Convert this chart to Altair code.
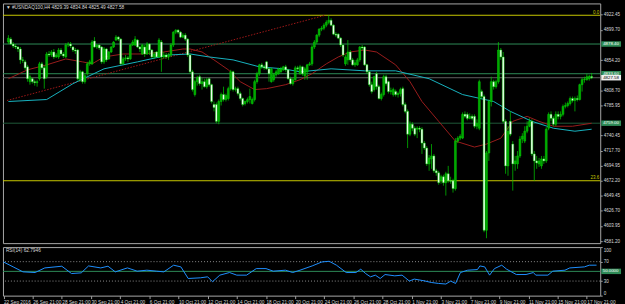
import altair as alt
import pandas as pd

FONT = "Liberation Sans"
TXT = "#d8d8d8"

# ---------------- candles: H4 bars, index 0..244 ----------------
opens = [
    4881.4, 4885.8, 4878.4, 4875.4, 4873.9, 4870.9, 4854.5, 4851.5, 4844.0, 4821.6,
    4826.1, 4821.6, 4820.1, 4826.1, 4848.5, 4842.5, 4829.1, 4863.4, 4861.9, 4866.4,
    4858.9, 4858.9, 4869.4, 4863.4, 4858.9, 4876.9, 4878.4, 4873.9, 4869.4, 4869.4,
    4824.6, 4836.5, 4821.6, 4833.6, 4848.5, 4848.5, 4882.9, 4873.9, 4876.9, 4873.9,
    4851.5, 4870.9, 4856.0, 4866.4, 4873.9, 4884.4, 4888.8, 4885.8, 4848.5, 4856.0,
    4857.5, 4856.0, 4876.9, 4876.9, 4884.4, 4873.9, 4863.4, 4873.9, 4863.4, 4878.4,
    4869.4, 4858.9, 4866.4, 4858.9, 4881.4, 4858.9, 4861.9, 4858.9, 4861.9, 4876.9,
    4896.3, 4899.3, 4896.3, 4888.8, 4891.8, 4885.8, 4861.9, 4836.5, 4802.2, 4821.6,
    4829.1, 4818.6, 4821.6, 4814.1, 4826.1, 4817.1, 4787.2, 4787.2, 4761.8, 4791.7,
    4802.2, 4794.7, 4796.2, 4811.1, 4836.5, 4809.7, 4811.1, 4803.7, 4796.2, 4788.7,
    4791.7, 4794.7, 4788.7, 4794.7, 4821.6, 4833.6, 4847.0, 4844.0, 4851.5, 4841.0,
    4821.6, 4824.6, 4832.1, 4833.6, 4836.5, 4839.5, 4844.0, 4839.5, 4826.1, 4818.6,
    4824.6, 4842.5, 4833.6, 4844.0, 4830.6, 4836.5, 4847.0, 4848.5, 4873.9, 4881.4,
    4891.8, 4900.8, 4902.3, 4906.8, 4911.2, 4914.2, 4906.8, 4893.3, 4893.3, 4887.3,
    4876.9, 4848.5, 4854.5, 4866.4, 4854.5, 4847.0, 4847.0, 4854.5, 4873.9, 4873.9,
    4847.0, 4836.5, 4817.1, 4809.7, 4833.6, 4814.1, 4796.2, 4802.2, 4829.1, 4821.6,
    4806.7, 4802.2, 4806.7, 4802.2, 4803.7, 4811.1, 4787.2, 4776.8, 4742.4, 4757.4,
    4751.4, 4749.9, 4751.4, 4749.9, 4729.0, 4721.5, 4697.6, 4705.1, 4709.6, 4687.2,
    4684.2, 4672.2, 4678.2, 4669.2, 4682.7, 4672.2, 4672.2, 4660.3, 4732.0, 4736.5,
    4736.5, 4772.3, 4772.3, 4766.3, 4769.3, 4769.3, 4754.4, 4751.4, 4806.7, 4799.2,
    4597.5, 4714.1, 4791.7, 4821.6, 4814.1, 4821.6, 4869.4, 4858.9, 4761.8, 4694.6,
    4761.8, 4727.5, 4697.6, 4697.6, 4709.6, 4735.0, 4732.0, 4746.9, 4754.4, 4761.8,
    4712.6, 4702.1, 4697.6, 4694.6, 4705.1, 4702.1, 4751.4, 4772.3, 4766.3, 4757.4,
    4772.3, 4769.3, 4772.3, 4784.3, 4785.7, 4788.7, 4796.2, 4793.2, 4796.2, 4794.7,
    4817.1, 4824.6, 4824.6, 4826.1, 4829.39]
highs = [
    4891.8, 4888.8, 4881.4, 4878.4, 4875.4, 4873.9, 4858.9, 4854.5, 4847.0, 4832.1,
    4827.6, 4824.6, 4824.6, 4851.5, 4851.5, 4845.5, 4866.4, 4867.9, 4869.4, 4870.9,
    4864.9, 4872.4, 4872.4, 4866.4, 4879.9, 4881.4, 4881.4, 4875.4, 4872.4, 4870.9,
    4839.5, 4838.0, 4833.6, 4851.5, 4854.5, 4884.4, 4888.8, 4878.4, 4878.4, 4875.4,
    4873.9, 4872.4, 4867.9, 4875.4, 4882.9, 4891.8, 4890.3, 4887.3, 4858.9, 4861.9,
    4860.4, 4878.4, 4884.4, 4890.3, 4885.8, 4875.4, 4878.4, 4876.9, 4881.4, 4879.9,
    4870.9, 4866.4, 4867.9, 4887.3, 4884.4, 4866.4, 4864.9, 4864.9, 4879.9, 4897.8,
    4900.8, 4900.8, 4897.8, 4894.8, 4894.8, 4887.3, 4863.4, 4839.5, 4824.6, 4830.6,
    4832.1, 4827.6, 4826.1, 4827.6, 4827.6, 4818.6, 4791.7, 4790.2, 4794.7, 4805.2,
    4814.1, 4803.7, 4814.1, 4839.5, 4838.0, 4814.1, 4814.1, 4806.7, 4797.7, 4793.2,
    4797.7, 4811.1, 4797.7, 4824.6, 4836.5, 4848.5, 4850.0, 4847.0, 4853.0, 4842.5,
    4842.5, 4835.0, 4839.5, 4842.5, 4844.0, 4845.5, 4847.0, 4841.0, 4829.1, 4827.6,
    4845.5, 4845.5, 4847.0, 4845.5, 4844.0, 4848.5, 4851.5, 4876.9, 4884.4, 4893.3,
    4902.3, 4905.3, 4909.7, 4914.2, 4921.7, 4917.2, 4908.2, 4896.3, 4894.8, 4888.8,
    4878.4, 4861.9, 4884.4, 4869.4, 4857.5, 4854.5, 4857.5, 4875.4, 4876.9, 4875.4,
    4848.5, 4838.0, 4821.6, 4830.6, 4836.5, 4817.1, 4805.2, 4832.1, 4832.1, 4823.1,
    4812.6, 4812.6, 4809.7, 4806.7, 4812.6, 4814.1, 4790.2, 4779.8, 4761.8, 4760.4,
    4754.4, 4754.4, 4754.4, 4752.9, 4732.0, 4724.5, 4711.1, 4727.5, 4712.6, 4690.2,
    4687.2, 4681.2, 4681.2, 4685.7, 4694.6, 4678.2, 4675.2, 4736.5, 4739.4, 4742.4,
    4775.3, 4776.8, 4775.3, 4773.8, 4772.3, 4772.3, 4764.8, 4824.6, 4809.7, 4802.2,
    4717.0, 4794.7, 4829.1, 4824.6, 4824.6, 4881.4, 4872.4, 4866.4, 4764.8, 4754.4,
    4776.8, 4732.0, 4709.6, 4717.0, 4739.4, 4743.9, 4754.4, 4761.8, 4766.3, 4764.8,
    4717.0, 4709.6, 4706.6, 4709.6, 4709.6, 4752.9, 4775.3, 4776.8, 4769.3, 4776.8,
    4776.8, 4776.8, 4787.2, 4790.2, 4791.7, 4799.2, 4799.2, 4799.2, 4800.7, 4818.6,
    4827.6, 4829.1, 4833.6, 4832.1, 4834.84]
lows = [
    4878.4, 4876.9, 4872.4, 4870.9, 4866.4, 4848.5, 4850.0, 4839.5, 4821.6, 4817.1,
    4818.6, 4815.6, 4814.1, 4823.1, 4839.5, 4811.1, 4826.1, 4858.9, 4858.9, 4856.0,
    4857.5, 4856.0, 4860.4, 4857.5, 4857.5, 4873.9, 4872.4, 4866.4, 4863.4, 4823.1,
    4821.6, 4818.6, 4818.6, 4830.6, 4845.5, 4847.0, 4872.4, 4870.9, 4869.4, 4848.5,
    4848.5, 4851.5, 4854.5, 4864.9, 4872.4, 4882.9, 4882.9, 4847.0, 4847.0, 4853.0,
    4851.5, 4854.5, 4875.4, 4875.4, 4872.4, 4866.4, 4861.9, 4858.9, 4861.9, 4861.9,
    4857.5, 4856.0, 4857.5, 4857.5, 4836.5, 4856.0, 4856.0, 4854.5, 4858.9, 4873.9,
    4893.3, 4893.3, 4887.3, 4887.3, 4882.9, 4858.9, 4833.6, 4806.7, 4799.2, 4815.6,
    4815.6, 4809.7, 4812.6, 4811.1, 4814.1, 4788.7, 4776.8, 4758.9, 4757.4, 4785.7,
    4791.7, 4791.7, 4793.2, 4808.2, 4806.7, 4806.7, 4800.7, 4793.2, 4784.3, 4785.7,
    4788.7, 4788.7, 4787.2, 4791.7, 4818.6, 4830.6, 4841.0, 4839.5, 4839.5, 4821.6,
    4820.1, 4821.6, 4829.1, 4832.1, 4835.0, 4838.0, 4836.5, 4824.6, 4817.1, 4815.6,
    4823.1, 4838.0, 4832.1, 4830.6, 4824.6, 4824.6, 4845.5, 4845.5, 4870.9, 4878.4,
    4888.8, 4897.8, 4899.3, 4903.8, 4908.2, 4905.3, 4891.8, 4888.8, 4885.8, 4873.9,
    4858.9, 4845.5, 4847.0, 4851.5, 4845.5, 4844.0, 4845.5, 4851.5, 4869.4, 4845.5,
    4833.6, 4814.1, 4803.7, 4806.7, 4809.7, 4794.7, 4793.2, 4799.2, 4815.6, 4803.7,
    4802.2, 4799.2, 4799.2, 4797.7, 4799.2, 4784.3, 4773.8, 4721.5, 4739.4, 4746.9,
    4739.4, 4736.5, 4745.4, 4712.6, 4718.5, 4694.6, 4687.2, 4690.2, 4684.2, 4679.7,
    4666.2, 4667.7, 4664.7, 4649.8, 4669.2, 4667.7, 4654.3, 4657.3, 4729.0, 4733.5,
    4735.0, 4766.3, 4763.3, 4764.8, 4763.3, 4751.4, 4749.9, 4748.4, 4796.2, 4594.5,
    4585.5, 4702.1, 4784.3, 4809.7, 4811.1, 4818.6, 4854.5, 4758.9, 4682.7, 4679.7,
    4739.4, 4657.3, 4687.2, 4690.2, 4706.6, 4729.0, 4729.0, 4743.9, 4752.9, 4709.6,
    4672.2, 4690.2, 4693.1, 4690.2, 4697.6, 4699.1, 4748.4, 4761.8, 4754.4, 4754.4,
    4764.8, 4764.8, 4769.3, 4781.3, 4782.8, 4785.7, 4790.2, 4776.8, 4791.7, 4793.2,
    4806.7, 4820.1, 4823.1, 4823.1, 4825.49]
closes = [
    4887.3, 4878.4, 4875.4, 4873.9, 4870.9, 4854.5, 4853.8, 4842.5, 4826.1, 4829.1,
    4821.6, 4820.1, 4821.6, 4848.5, 4842.5, 4826.1, 4863.4, 4861.9, 4866.4, 4858.9,
    4861.9, 4869.4, 4863.4, 4860.4, 4876.9, 4878.4, 4875.4, 4869.4, 4867.9, 4826.1,
    4836.5, 4821.6, 4830.6, 4848.5, 4851.5, 4881.4, 4873.9, 4876.9, 4872.4, 4851.5,
    4870.9, 4854.5, 4866.4, 4873.9, 4881.4, 4888.8, 4885.8, 4848.5, 4856.0, 4857.5,
    4856.0, 4876.9, 4881.4, 4885.8, 4873.9, 4870.9, 4876.9, 4863.4, 4878.4, 4869.4,
    4858.9, 4863.4, 4858.9, 4884.4, 4858.9, 4861.9, 4858.9, 4861.9, 4876.9, 4896.3,
    4899.3, 4896.3, 4888.8, 4891.8, 4885.8, 4861.9, 4836.5, 4809.7, 4821.6, 4827.6,
    4818.6, 4821.6, 4814.1, 4824.6, 4817.1, 4791.7, 4782.8, 4761.8, 4791.7, 4802.2,
    4794.7, 4800.7, 4811.1, 4836.5, 4809.7, 4811.1, 4803.7, 4796.2, 4787.2, 4791.7,
    4794.7, 4799.2, 4794.7, 4821.6, 4833.6, 4847.0, 4844.0, 4842.5, 4841.0, 4833.6,
    4841.0, 4832.1, 4836.5, 4841.0, 4841.0, 4844.0, 4839.5, 4826.1, 4818.6, 4824.6,
    4842.5, 4841.0, 4844.0, 4833.6, 4841.0, 4847.0, 4848.5, 4873.9, 4881.4, 4891.8,
    4900.8, 4902.3, 4906.8, 4911.2, 4914.2, 4906.8, 4893.3, 4891.8, 4887.3, 4876.9,
    4861.9, 4858.9, 4866.4, 4854.5, 4847.0, 4850.0, 4854.5, 4873.9, 4872.4, 4847.0,
    4836.5, 4817.1, 4806.7, 4829.1, 4814.1, 4796.2, 4802.2, 4829.1, 4818.6, 4806.7,
    4808.2, 4809.7, 4802.2, 4803.7, 4809.7, 4787.2, 4776.8, 4742.4, 4757.4, 4751.4,
    4742.4, 4751.4, 4749.9, 4729.0, 4721.5, 4697.6, 4706.6, 4709.6, 4687.2, 4684.2,
    4669.2, 4678.2, 4669.2, 4682.7, 4672.2, 4671.5, 4660.3, 4732.0, 4736.5, 4739.4,
    4772.3, 4769.3, 4766.3, 4769.3, 4766.3, 4754.4, 4758.9, 4821.6, 4799.2, 4597.5,
    4714.1, 4791.7, 4821.6, 4814.1, 4821.6, 4869.4, 4858.9, 4761.8, 4694.6, 4746.9,
    4742.4, 4697.6, 4702.1, 4709.6, 4735.0, 4739.4, 4746.9, 4754.4, 4761.8, 4712.6,
    4702.1, 4699.1, 4702.1, 4705.1, 4702.1, 4749.9, 4772.3, 4766.3, 4757.4, 4772.3,
    4769.3, 4772.3, 4784.3, 4785.7, 4788.7, 4796.2, 4793.2, 4796.2, 4794.7, 4817.1,
    4824.6, 4825.3, 4829.1, 4829.4, 4827.58]
bars = list(range(len(closes)))

# moving averages (bar, price)
ma_red_bar = [0, 8, 16, 24, 31, 35, 40, 48, 56, 65, 73, 76, 81, 86, 92, 97, 103, 108, 116, 122, 127, 133,
              138, 143, 149, 154, 162, 168, 173, 180, 187, 195, 200, 206, 211, 217, 222, 228, 236, 244]
ma_red = [4826.1, 4839.5, 4847.0, 4855.9, 4851.5, 4848.5, 4858.9, 4863.4, 4863.4, 4866.4, 4870.9, 4870.9,
          4866.4, 4854.5, 4839.5, 4821.6, 4809.7, 4811.1, 4817.1, 4824.6, 4833.6, 4848.5, 4858.9, 4866.4,
          4869.4, 4866.4, 4847.0, 4821.6, 4791.7, 4761.8, 4732.0, 4723.0, 4727.5, 4736.4, 4761.8, 4769.3,
          4761.8, 4754.4, 4754.4, 4758.9]
ma_cyan_bar = [0, 16, 27, 40, 54, 67, 76, 84, 94, 105, 115, 122, 135, 149, 162, 176, 190, 203, 210, 219,
               228, 237, 244]
ma_cyan = [4791.7, 4794.7, 4818.6, 4841.0, 4851.5, 4861.9, 4863.4, 4858.9, 4854.5, 4844.0, 4841.0, 4836.5,
           4841.0, 4838.0, 4838.0, 4826.1, 4802.2, 4791.7, 4776.8, 4761.8, 4751.4, 4746.9, 4749.9]

# RSI(14)
rsi_bar = [0, 4, 8, 13, 17, 24, 28, 32, 35, 40, 43, 46, 51, 55, 59, 63, 66, 70, 73, 76, 81, 84, 86, 89,
           93, 96, 100, 104, 108, 111, 116, 119, 122, 127, 131, 134, 137, 141, 145, 147, 149, 151, 153,
           155, 157, 161, 164, 167, 169, 173, 176, 179, 182, 184, 186, 188, 191, 195, 196, 198, 200, 202,
           205, 207, 211, 215, 218, 219, 224, 226, 231, 233, 239, 241, 244]
rsi = [69.4, 59.2, 49.0, 47.6, 57.1, 60.6, 45.5, 46.9, 61.2, 57.1, 60.6, 49.0, 57.1, 50.4, 52.4, 50.4, 49.0,
       62.7, 59.2, 35.3, 36.7, 38.8, 28.6, 42.2, 47.6, 42.2, 42.2, 55.7, 55.7, 50.4, 52.4, 47.6, 52.4, 61.2,
       69.4, 70.8, 62.7, 47.6, 47.6, 54.5, 45.5, 38.8, 42.2, 35.3, 43.5, 40.8, 42.2, 30.0, 34.1, 30.6, 27.1,
       25.1, 23.9, 30.0, 25.1, 47.6, 52.4, 53.7, 61.2, 59.2, 42.2, 55.7, 62.7, 54.5, 43.5, 43.5, 47.6, 42.2,
       42.2, 50.4, 52.4, 57.1, 59.2, 62.7, 62.79]

# axis ticks / labels
time_ticks = [0, 12, 24, 36, 48, 60, 72, 84, 96, 108, 120, 132, 144, 156, 168, 180, 192, 204, 216, 228, 240]
time_labels = ["22 Sep 2016", "26 Sep 21:00", "28 Sep 21:00", "30 Sep 21:00", "4 Oct 21:00", "6 Oct 21:00",
               "10 Oct 21:00", "12 Oct 21:00", "14 Oct 21:00", "18 Oct 21:00", "20 Oct 21:00",
               "24 Oct 21:00", "26 Oct 21:00", "28 Oct 21:00", "1 Nov 21:00", "3 Nov 21:00",
               "7 Nov 21:00", "9 Nov 21:00", "11 Nov 21:00", "15 Nov 21:00", "17 Nov 21:00"]
price_ticks = [4922.45, 4899.70, 4854.20, 4808.70, 4785.95, 4740.45, 4717.70,
               4694.95, 4672.20, 4649.45, 4626.70, 4603.95, 4581.20]
rsi_ticks = [100, 70, 30, 0]

# horizontal objects
levels = [4921.80, 4672.20, 4878.40, 4833.60, 4759.00, 4827.58]
level_colors = ["#c8c800", "#c8c800", "#2e8b57", "#2e8b57", "#1f5a3a", "#606060"]
tag_levels = [4878.40, 4833.60, 4759.00, 4827.58]
tag_texts = ["4878.40", "4833.60", "4759.00", "4827.58"]
tag_fill = ["#2e8b57", "#2e8b57", "#2e8b57", "#f0f0f0"]
tag_txt = ["#ffffff", "#ffffff", "#ffffff", "#000000"]
fib_levels = [4921.80, 4672.20]
fib_texts = ["0.0", "23.6"]
trend_bar = [-0.6, 132.5]
trend_price = [4793.2, 4921.8]

header = "\u25bc #USNDAQ100,H4  4829.39 4834.84 4825.49 4827.58"
rsi_title = "RSI(14) 62.7946"

# ---------------- frames ----------------
candles = pd.DataFrame(dict(bar=bars, open=opens, high=highs, low=lows, close=closes))
candles["dir"] = ["up" if c >= o else "down" for o, c in zip(opens, closes)]

X_DOM = [-0.204, 245.52]
Y_DOM = [4578.08, 4939.63]
xs = alt.Scale(domain=X_DOM, nice=False, zero=False)
ys = alt.Scale(domain=Y_DOM, nice=False, zero=False)
rs = alt.Scale(domain=[0, 100], nice=False, zero=False)

yaxis = alt.Axis(orient="right", values=price_ticks, format=".2f", title=None, grid=False, domain=False,
                 tickSize=2, tickColor="#a0a0a0", labelColor=TXT, labelFontSize=4.6, labelFont=FONT,
                 labelPadding=1, labelAlign="left", labelBaseline="middle")


def X(f):
    return alt.X(f, type="quantitative", scale=xs, axis=None)


def Y(f):
    return alt.Y(f, type="quantitative", scale=ys, axis=yaxis)


lv = pd.DataFrame(dict(price=levels, color=level_colors))
hlines = alt.Chart(lv).mark_rule(strokeWidth=1).encode(
    y=Y("price"), color=alt.Color("color:N", scale=None))

trend = alt.Chart(pd.DataFrame(dict(bar=trend_bar, price=trend_price))).mark_line(
    color="#a01818", strokeWidth=1, strokeDash=[1.5, 1.5], clip=True).encode(x=X("bar"), y=Y("price"))

ma1 = alt.Chart(pd.DataFrame(dict(bar=ma_red_bar, price=ma_red))).mark_line(
    color="#9a1c1c", strokeWidth=1).encode(x=X("bar"), y=Y("price"))
ma2 = alt.Chart(pd.DataFrame(dict(bar=ma_cyan_bar, price=ma_cyan))).mark_line(
    color="#17b3c0", strokeWidth=1).encode(x=X("bar"), y=Y("price"))

wick = alt.Chart(candles).mark_rule(color="#00d000", strokeWidth=0.7).encode(
    x=X("bar"), y=Y("low"), y2="high")
body = alt.Chart(candles).mark_bar(width=1.9, stroke="#00e000", strokeWidth=0.45).encode(
    x=X("bar"), y=Y("open"), y2="close",
    fill=alt.Fill("dir:N", scale=alt.Scale(domain=["up", "down"], range=["#00a400", "#ffffff"]), legend=None))

fib = alt.Chart(pd.DataFrame(dict(price=fib_levels, t=fib_texts))).mark_text(
    align="right", baseline="bottom", dy=-0.5, color="#c8c800", fontSize=4.6, font=FONT).encode(
    x=alt.value(602), y=Y("price"), text="t:N")

tags = pd.DataFrame(dict(price=tag_levels, t=tag_texts, fill=tag_fill, tc=tag_txt))
tag_box = alt.Chart(tags).mark_rule(strokeWidth=5.5).encode(
    x=alt.value(604), x2=alt.value(624), y=Y("price"), color=alt.Color("fill:N", scale=None))
tag_text = alt.Chart(tags).mark_text(align="left", baseline="middle", fontSize=4.4, font=FONT).encode(
    x=alt.value(606), y=Y("price"), text="t:N", color=alt.Color("tc:N", scale=None))

head = alt.Chart(pd.DataFrame(dict(t=[header]))).mark_text(
    align="left", baseline="middle", fontSize=4.8, font=FONT, color=TXT).encode(
    x=alt.value(3), y=alt.value(4.5), text="t:N")

main = alt.layer(hlines, trend, ma1, ma2, wick, body, fib, tag_box, tag_text, head).properties(
    width=603, height=242)

# ---------------- RSI panel ----------------
xaxis = alt.Axis(values=time_ticks, title=None, grid=False, domain=False, tickSize=3, tickColor="#a0a0a0",
                 labelColor=TXT, labelFontSize=4.8, labelFont=FONT, labelAlign="left", labelBaseline="top",
                 labelPadding=0.5, labelExpr="%s[round(datum.value / 12)]" % str(time_labels))
raxis = alt.Axis(orient="right", values=rsi_ticks, format="d", title=None, grid=False, domain=False,
                 tickSize=2, tickColor="#a0a0a0", labelColor=TXT, labelFontSize=4.6, labelFont=FONT,
                 labelPadding=1, labelAlign="left", labelFlush=True)

r_dots = alt.Chart(pd.DataFrame(dict(v=[70, 30]))).mark_rule(
    color="#b0b0b0", strokeWidth=0.8, strokeDash=[1, 2]).encode(y=alt.Y("v:Q", scale=rs, axis=raxis))
r_mid = alt.Chart(pd.DataFrame(dict(v=[50]))).mark_rule(color="#2e8b57", strokeWidth=1).encode(
    y=alt.Y("v:Q", scale=rs, axis=raxis))
r_line = alt.Chart(pd.DataFrame(dict(bar=rsi_bar, v=rsi))).mark_line(color="#1e90ff", strokeWidth=1).encode(
    x=alt.X("bar:Q", scale=xs, axis=xaxis), y=alt.Y("v:Q", scale=rs, axis=raxis))
r_tag = alt.Chart(pd.DataFrame(dict(v=[50]))).mark_rule(strokeWidth=5.5, color="#2e8b57").encode(
    x=alt.value(604), x2=alt.value(624), y=alt.Y("v:Q", scale=rs, axis=raxis))
r_tagt = alt.Chart(pd.DataFrame(dict(v=[50], t=["50.0000"]))).mark_text(
    align="left", baseline="middle", fontSize=4.4, font=FONT, color="#ffffff").encode(
    x=alt.value(605.5), y=alt.Y("v:Q", scale=rs, axis=raxis), text="t:N")
r_head = alt.Chart(pd.DataFrame(dict(t=[rsi_title]))).mark_text(
    align="left", baseline="middle", fontSize=4.8, font=FONT, color=TXT).encode(
    x=alt.value(3), y=alt.value(4), text="t:N")

rsi_chart = alt.layer(r_dots, r_mid, r_line, r_tag, r_tagt, r_head).properties(width=603, height=49)

chart = alt.vconcat(main, rsi_chart, spacing=2).properties(
    padding={"left": 1, "top": 1, "right": 0, "bottom": 0}, background="#000000"
).configure_view(stroke="#a8a8a8", strokeWidth=1).configure_concat(spacing=2)

chart.save("out.html", embed_options={"renderer": "svg", "actions": False})
